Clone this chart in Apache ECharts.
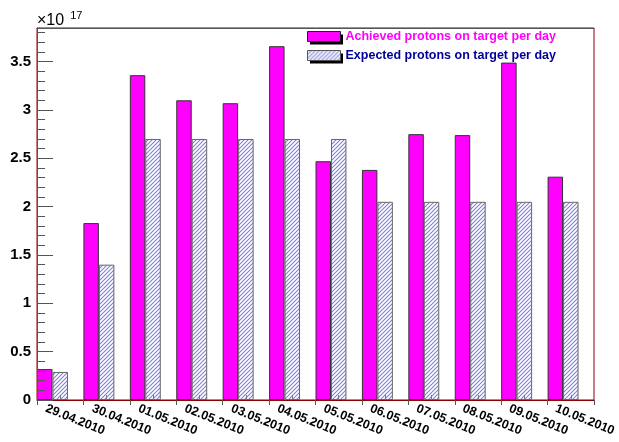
<!DOCTYPE html>
<html>
<head>
<meta charset="utf-8">
<script src="https://cdn.jsdelivr.net/npm/echarts@6/dist/echarts.min.js"></script>
<style>
  html, body { margin: 0; padding: 0; background: #fff; }
  #chart { width: 619px; height: 442px; }
</style>
</head>
<body>
<div id="chart"></div>
<script>
// Daily protons on target, in units of 1e17
const days = ['29.04.2010', '30.04.2010', '01.05.2010', '02.05.2010', '03.05.2010', '04.05.2010',
              '05.05.2010', '06.05.2010', '07.05.2010', '08.05.2010', '09.05.2010', '10.05.2010'];
const achieved = [0.32, 1.83, 3.36, 3.10, 3.07, 3.66, 2.47, 2.38, 2.75, 2.74, 3.49, 2.31];
const expected = [0.29, 1.40, 2.70, 2.70, 2.70, 2.70, 2.70, 2.05, 2.05, 2.05, 2.05, 2.05];
const exponent = '17';
const yMax = 3.848;

const FONT = 'Liberation Sans, Arial, Helvetica, sans-serif';

// diagonal "/" hatch fill for the expected series
function hatchPattern() {
  const s = 8;
  const c = document.createElement('canvas');
  c.width = s; c.height = s;
  const g = c.getContext('2d');
  g.fillStyle = '#ffffff';
  g.fillRect(0, 0, s, s);
  g.strokeStyle = '#8080dc';
  g.lineWidth = 1.1;
  g.beginPath();
  for (let k = -2; k <= 2; k++) {
    g.moveTo(k * 4 - 2, s + 2);
    g.lineTo(k * 4 + s + 2, -2);
  }
  g.stroke();
  return c;
}

const chart = echarts.init(document.getElementById('chart'), null, { renderer: 'canvas' });

const nameA = 'Achieved protons on target per day';
const nameB = 'Expected protons on target per day';

const legendBase = {
  orient: 'vertical', padding: 5,
  icon: 'rect', itemWidth: 33, itemHeight: 10, itemGap: 6,
  selectedMode: false,
  textStyle: { fontSize: 12.5, fontWeight: 700, fontFamily: FONT }
};

chart.setOption({
  animation: false,
  backgroundColor: '#ffffff',
  textStyle: { fontFamily: FONT },
  legend: [
    // drop shadow behind the legend keys
    Object.assign({}, legendBase, {
      left: 305, top: 28, z: 3,
      itemStyle: { color: '#000', borderWidth: 0, decal: 'none' },
      textStyle: Object.assign({}, legendBase.textStyle, { color: 'rgba(0,0,0,0)' }),
      data: [nameA, nameB]
    }),
    Object.assign({}, legendBase, {
      left: 302, top: 25, z: 4,
      data: [
        { name: nameA, textStyle: { color: '#ff00ff' }, itemStyle: { borderColor: '#222', borderWidth: 1 } },
        { name: nameB, textStyle: { color: '#000099' }, itemStyle: { borderColor: '#555', borderWidth: 1 } }
      ]
    })
  ],
  grid: [
    { left: 37, right: 25, top: 28, bottom: 42, show: true, borderColor: '#8b0000', borderWidth: 1, backgroundColor: '#fff' },
    { left: 23, right: 39, top: 28, bottom: 42 },
    { left: 37, right: 25, top: 28, bottom: 42 }
  ],
  xAxis: [
    { gridIndex: 0, type: 'category', position: 'bottom', data: days,
      axisLine: { lineStyle: { color: '#8b0000', width: 1 } },
      axisTick: { show: true, length: 5, interval: 0, lineStyle: { color: '#555' } },
      axisLabel: { show: false } },
    { gridIndex: 0, type: 'category', position: 'top', data: days,
      axisLine: { lineStyle: { color: '#555', width: 1 } },
      axisTick: { show: false }, axisLabel: { show: false } },
    { gridIndex: 1, type: 'category', position: 'bottom', data: days,
      axisLine: { show: false }, axisTick: { show: false },
      axisLabel: { rotate: -22, interval: 0, margin: 8, fontSize: 12.5, fontWeight: 700, color: '#000', fontFamily: FONT } },
    { gridIndex: 2, type: 'category', position: 'bottom', data: days, z: 10,
      axisLine: { show: false },
      axisTick: { show: true, inside: true, alignWithLabel: true, length: 5, interval: 0, lineStyle: { color: '#777' } },
      axisLabel: { show: false } }
  ],
  yAxis: [
    { gridIndex: 0, type: 'value', min: 0, max: yMax, interval: 0.5, z: 10,
      name: '{a|\u00d710}{b|' + exponent + '}',
      nameLocation: 'end', nameGap: 7,
      nameTextStyle: {
        align: 'left', verticalAlign: 'middle',
        rich: {
          a: { fontSize: 16, fontFamily: FONT, color: '#000' },
          b: { fontSize: 11, fontFamily: FONT, color: '#000', verticalAlign: 'top', padding: [0, 0, 10, 6] }
        }
      },
      axisLine: { show: true, lineStyle: { color: '#555', width: 1 } },
      axisTick: { show: true, inside: true, length: 16, lineStyle: { color: '#555' } },
      axisLabel: { margin: 6, fontSize: 15, fontWeight: 700, color: '#000', fontFamily: FONT, showMaxLabel: false },
      splitLine: { show: false } },
    { gridIndex: 1, type: 'value', min: 0, max: 1, show: false },
    { gridIndex: 2, type: 'value', min: 0, max: yMax, interval: 0.1, z: 10,
      axisLine: { show: false },
      axisTick: { show: true, inside: true, length: 8, lineStyle: { color: '#555' } },
      axisLabel: { show: false }, splitLine: { show: false } }
  ],
  series: [
    { name: nameA, type: 'bar', xAxisIndex: 0, yAxisIndex: 0, data: achieved,
      barGap: '0%', barCategoryGap: '0%',
      itemStyle: { color: '#ff00ff', borderColor: '#333', borderWidth: 1 } },
    { name: nameB, type: 'bar', xAxisIndex: 0, yAxisIndex: 0, data: expected,
      itemStyle: { color: { image: hatchPattern(), repeat: 'repeat' }, borderColor: '#666', borderWidth: 1 } },
    // empty third slot keeps the pair in the left two thirds of each day
    { name: 'spacer', type: 'bar', xAxisIndex: 0, yAxisIndex: 0, data: [], silent: true }
  ]
});
</script>
</body>
</html>
